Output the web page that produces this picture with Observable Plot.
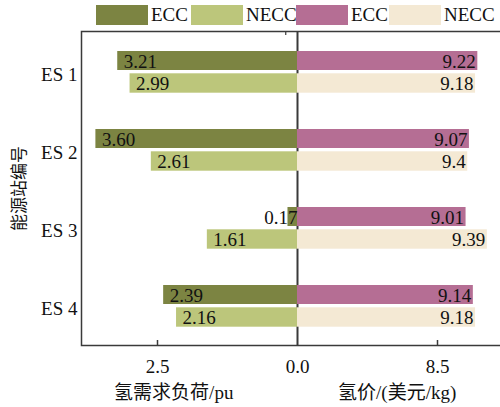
<!DOCTYPE html>
<html>
<head>
<meta charset="utf-8">
<script src="https://cdn.jsdelivr.net/npm/d3@7"></script>
<script src="https://cdn.jsdelivr.net/npm/@observablehq/plot@0.6"></script>
<style>
  body { margin: 0; background: white; overflow: hidden; }
  #legend { position: relative; width: 500px; height: 28px; font-family: "Liberation Serif", serif; font-size: 19px; color: #111; }
  #legend .sw { position: absolute; top: 5px; width: 52px; height: 20px; }
  #legend .lb { position: absolute; top: 5px; line-height: 20px; }
</style>
</head>
<body>
<div id="legend"></div>
<div id="chart"></div>
<script>
// ---- data ----
const stations = ["ES 1", "ES 2", "ES 3", "ES 4"];
const demandECC = [3.21, 3.60, 0.17, 2.39];
const demandNECC = [2.99, 2.61, 1.61, 2.16];
const priceECC = [9.22, 9.07, 9.01, 9.14];
const priceNECC = [9.18, 9.04, 9.39, 9.18];
const priceECCLabels = ["9.22", "9.07", "9.01", "9.14"];
const priceNECCLabels = ["9.18", "9.4", "9.39", "9.18"];
const priceBase = 6.0;           // price axis origin at the centre line
const xTicks = [-2.5, 0, 2.5];
const leftTitle = "氢需求负荷/pu";
const rightTitle = "氢价/(美元/kg)";
const yTitle = "能源站编号";
const legendItems = [
  {label: "ECC", color: "#7c8442"},
  {label: "NECC", color: "#bcc67b"},
  {label: "ECC", color: "#b56e94"},
  {label: "NECC", color: "#f4e9d4"}
];

// ---- legend ----
const swX = [96, 191, 296, 389];
const lg = document.getElementById("legend");
legendItems.forEach((d, i) => {
  const s = document.createElement("span");
  s.className = "sw"; s.style.left = swX[i] + "px"; s.style.background = d.color;
  const t = document.createElement("span");
  t.className = "lb"; t.style.left = (swX[i] + 55) + "px"; t.textContent = d.label;
  lg.appendChild(s); lg.appendChild(t);
});

// ---- tables ----
const rows = stations.map((s, i) => ({
  station: s,
  dE: demandECC[i], dN: demandNECC[i],
  pE: priceECC[i], pN: priceNECC[i],
  pEL: priceECCLabels[i], pNL: priceNECCLabels[i]
}));

const C = legendItems.map(d => d.color);
const frameColor = "#3a3a3a";
const eccInset = {insetTop: 19, insetBottom: 40};
const neccInset = {insetTop: 41.3, insetBottom: 17.3};
const fmtTick = d => d < 0 ? (-d).toFixed(1) : d === 0 ? "0.0" : (d + priceBase).toFixed(1);

const chart = Plot.plot({
  width: 500,
  height: 379,
  marginTop: 3,
  marginBottom: 62,
  marginLeft: 81,
  marginRight: -2,
  style: {fontFamily: "'Liberation Serif', 'Noto Sans CJK SC', serif", fontSize: "19px", color: "#111", background: "white", overflow: "hidden"},
  x: {domain: [-216 / 56, 205 / 56]},
  y: {domain: stations, padding: 0, label: null},
  marks: [
    Plot.ruleX([0], {stroke: frameColor, strokeWidth: 2}),
    Plot.barX(rows, {y: "station", x1: 0, x2: d => -d.dE, fill: C[0], ...eccInset}),
    Plot.barX(rows, {y: "station", x1: 0, x2: d => -d.dN, fill: C[1], ...neccInset}),
    Plot.barX(rows, {y: "station", x1: 0, x2: d => d.pE - priceBase, fill: C[2], ...eccInset}),
    Plot.barX(rows, {y: "station", x1: 0, x2: d => d.pN - priceBase, fill: C[3], ...neccInset}),
    Plot.frame({stroke: frameColor, strokeWidth: 1.5}),
    Plot.ruleX(xTicks.filter(d => d !== 0), {stroke: frameColor, strokeWidth: 1.5, insetTop: 309}),
    Plot.ruleX([-0.21], {stroke: frameColor, strokeWidth: 1.2, insetBottom: 310}),
    // value labels
    Plot.text(rows.filter(d => d.dE >= 0.5), {y: "station", x: d => -d.dE, text: d => d.dE.toFixed(2), textAnchor: "start", dx: 6, dy: -10, fill: "#111"}),
    Plot.text(rows.filter(d => d.dE < 0.5), {y: "station", x: 0, text: d => d.dE.toFixed(2), textAnchor: "end", dx: 0, dy: -10, fill: "#111"}),
    Plot.text(rows, {y: "station", x: d => -d.dN, text: d => d.dN.toFixed(2), textAnchor: "start", dx: 6, dy: 12, fill: "#111"}),
    Plot.text(rows, {y: "station", x: d => d.pE - priceBase, text: "pEL", textAnchor: "end", dx: -2, dy: -10, fill: "#111"}),
    Plot.text(rows, {y: "station", x: d => d.pN - priceBase, text: "pNL", textAnchor: "end", dx: -2, dy: 12, fill: "#111"}),
    // axes
    Plot.axisX({ticks: xTicks, tickFormat: fmtTick, tickSize: 0, tickPadding: 14, label: null, fontSize: 19}),
    Plot.axisY({tickSize: 0, tickPadding: 4, dy: 3, label: null, fontSize: 19}),
    Plot.axisY({ticks: [], label: yTitle, labelAnchor: "center", labelOffset: 69, labelArrow: "none", fontSize: 17, dy: 7}),
    Plot.text([leftTitle], {x: -2.21, frameAnchor: "bottom", dy: 53, text: d => d, fontSize: 19}),
    Plot.text([rightTitle], {x: 1.78, frameAnchor: "bottom", dy: 53, text: d => d, fontSize: 19})
  ]
});
document.getElementById("chart").appendChild(chart);
</script>
</body>
</html>
